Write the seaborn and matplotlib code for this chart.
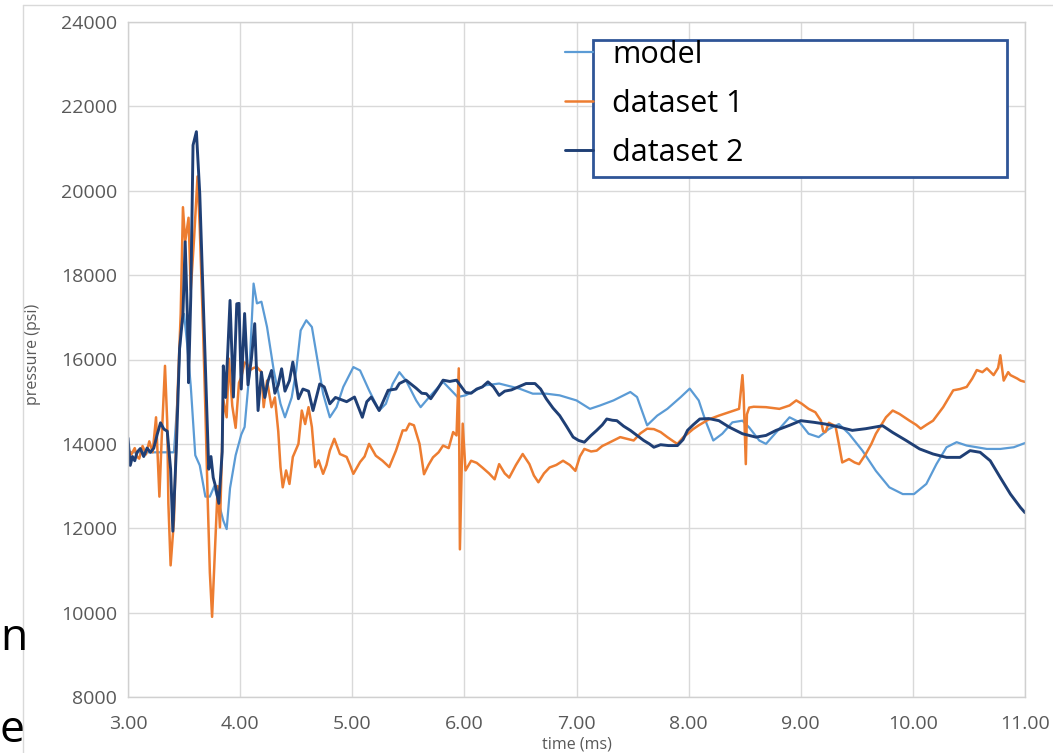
import pandas as pd
import matplotlib
matplotlib.use("Agg")
import matplotlib.pyplot as plt
import matplotlib.patches as patches
from matplotlib.lines import Line2D
from matplotlib.ticker import FormatStrFormatter
import seaborn as sns

# (time ms, pressure psi)
model_pts = [
    (3.00, 13800), (3.41, 13800), (3.44, 15000), (3.47, 16670), (3.50, 17080), (3.53, 16300),
    (3.56, 15360), (3.60, 13730), (3.64, 13490), (3.69, 12750), (3.73, 12750), (3.77, 13000),
    (3.81, 12590), (3.85, 12180), (3.88, 11980), (3.91, 12950), (3.96, 13730), (4.01, 14220),
    (4.04, 14400), (4.08, 15600), (4.12, 17800), (4.15, 17330), (4.19, 17370), (4.24, 16770),
    (4.30, 15740), (4.36, 14950), (4.40, 14630), (4.46, 15100), (4.50, 15740), (4.54, 16690),
    (4.59, 16930), (4.64, 16770), (4.68, 16140), (4.74, 15190), (4.80, 14630), (4.86, 14870),
    (4.92, 15350), (5.01, 15820), (5.07, 15740), (5.15, 15270), (5.24, 14790), (5.30, 14950),
    (5.36, 15420), (5.42, 15700), (5.48, 15500), (5.57, 15030), (5.61, 14870), (5.69, 15120),
    (5.81, 15470), (5.94, 15110), (6.01, 15150), (6.19, 15390), (6.31, 15430), (6.49, 15310),
    (6.61, 15190), (6.73, 15190), (6.85, 15150), (7.00, 15030), (7.12, 14830), (7.21, 14910),
    (7.33, 15030), (7.48, 15230), (7.54, 15110), (7.63, 14440), (7.72, 14670), (7.81, 14830),
    (7.93, 15110), (8.01, 15310), (8.09, 15030), (8.15, 14550), (8.22, 14080), (8.30, 14240),
    (8.39, 14510), (8.48, 14550), (8.54, 14390), (8.63, 14080), (8.69, 14000), (8.78, 14270),
    (8.90, 14630), (8.99, 14510), (9.07, 14240), (9.16, 14160), (9.25, 14350), (9.34, 14470),
    (9.43, 14240), (9.55, 13840), (9.67, 13360), (9.79, 12970), (9.91, 12810), (10.01, 12810),
    (10.12, 13050), (10.21, 13520), (10.30, 13920), (10.39, 14040), (10.48, 13960), (10.57, 13920),
    (10.66, 13880), (10.78, 13880), (10.90, 13920), (11.00, 14020),
]

dataset1_pts = [
    (3.00, 13890), (3.03, 13750), (3.06, 13900), (3.08, 13700), (3.10, 13650), (3.13, 13950),
    (3.16, 13750), (3.19, 14060), (3.22, 13800), (3.25, 14630), (3.28, 12750), (3.30, 14100),
    (3.33, 15850), (3.35, 14500), (3.36, 12590), (3.38, 11120), (3.41, 12200), (3.44, 15040),
    (3.47, 17080), (3.49, 19610), (3.51, 18790), (3.54, 19360), (3.56, 17650), (3.59, 18900),
    (3.62, 20340), (3.64, 19120), (3.67, 16670), (3.69, 14800), (3.71, 12750), (3.73, 10950),
    (3.75, 9900), (3.78, 11770), (3.80, 13000), (3.82, 12020), (3.85, 15040), (3.88, 14630),
    (3.90, 16020), (3.93, 14900), (3.96, 14380), (3.99, 15450), (4.01, 15580), (4.04, 15930),
    (4.06, 15900), (4.09, 15750), (4.12, 15800), (4.15, 15820), (4.19, 15700), (4.21, 14870),
    (4.24, 15500), (4.28, 14870), (4.31, 15100), (4.34, 14300), (4.36, 13450), (4.38, 12970),
    (4.41, 13370), (4.44, 13050), (4.47, 13690), (4.52, 14000), (4.55, 14790), (4.58, 14470),
    (4.61, 14870), (4.64, 14400), (4.67, 13450), (4.70, 13610), (4.74, 13290), (4.77, 13500),
    (4.80, 13840), (4.84, 14120), (4.89, 13760), (4.95, 13690), (4.98, 13500), (5.01, 13290),
    (5.07, 13570), (5.11, 13700), (5.15, 14000), (5.21, 13720), (5.27, 13600), (5.33, 13450),
    (5.39, 13840), (5.45, 14320), (5.48, 14320), (5.51, 14480), (5.55, 14440), (5.60, 14000),
    (5.64, 13280), (5.68, 13500), (5.72, 13680), (5.77, 13800), (5.81, 13960), (5.86, 13900),
    (5.90, 14280), (5.93, 14200), (5.95, 15790), (5.96, 11500), (5.985, 14480), (6.01, 13370),
    (6.06, 13600), (6.11, 13550), (6.16, 13440), (6.22, 13300), (6.27, 13160), (6.31, 13520),
    (6.36, 13300), (6.40, 13200), (6.46, 13500), (6.52, 13760), (6.58, 13520), (6.62, 13250),
    (6.66, 13090), (6.71, 13300), (6.76, 13440), (6.82, 13500), (6.88, 13600), (6.94, 13500),
    (6.99, 13360), (7.03, 13700), (7.07, 13880), (7.13, 13820), (7.18, 13840), (7.23, 13950),
    (7.27, 14000), (7.33, 14080), (7.39, 14160), (7.45, 14120), (7.51, 14080), (7.57, 14250),
    (7.63, 14360), (7.69, 14350), (7.75, 14280), (7.81, 14160), (7.87, 14050), (7.90, 14000),
    (7.95, 14150), (7.99, 14240), (8.04, 14350), (8.09, 14440), (8.18, 14580), (8.27, 14670),
    (8.36, 14750), (8.45, 14830), (8.48, 15630), (8.49, 15200), (8.51, 13520), (8.52, 14700),
    (8.54, 14860), (8.58, 14880), (8.69, 14870), (8.81, 14830), (8.90, 14910), (8.96, 15030),
    (9.01, 14950), (9.07, 14830), (9.13, 14750), (9.18, 14550), (9.20, 14300), (9.22, 14280),
    (9.25, 14500), (9.31, 14420), (9.34, 14000), (9.37, 13560), (9.43, 13640), (9.48, 13560),
    (9.52, 13520), (9.58, 13760), (9.63, 14000), (9.67, 14240), (9.76, 14630), (9.82, 14790),
    (9.88, 14710), (9.97, 14550), (10.03, 14450), (10.07, 14360), (10.12, 14450), (10.18, 14550),
    (10.27, 14870), (10.36, 15270), (10.42, 15300), (10.48, 15350), (10.53, 15550), (10.57, 15750),
    (10.62, 15700), (10.66, 15790), (10.72, 15630), (10.76, 15800), (10.78, 16100), (10.81, 15500),
    (10.85, 15700), (10.87, 15630), (10.93, 15550), (10.96, 15500), (11.00, 15470),
]

dataset2_pts = [
    (3.00, 14140), (3.02, 13490), (3.04, 13700), (3.06, 13600), (3.08, 13800), (3.11, 13890),
    (3.14, 13700), (3.17, 13900), (3.20, 13800), (3.23, 13900), (3.26, 14220), (3.29, 14500),
    (3.32, 14350), (3.35, 14300), (3.38, 13400), (3.40, 11930), (3.43, 13810), (3.46, 16260),
    (3.49, 17080), (3.51, 18790), (3.53, 17000), (3.54, 15450), (3.56, 17500), (3.58, 21080),
    (3.61, 21400), (3.64, 19930), (3.66, 18300), (3.69, 15850), (3.72, 13400), (3.74, 13700),
    (3.76, 13200), (3.78, 13000), (3.81, 12590), (3.84, 13810), (3.85, 15850), (3.87, 15100),
    (3.89, 16200), (3.91, 17400), (3.94, 15110), (3.97, 17320), (3.99, 17330), (4.01, 15300),
    (4.04, 17090), (4.07, 15400), (4.10, 16000), (4.13, 16850), (4.16, 14790), (4.19, 15700),
    (4.22, 15100), (4.25, 15500), (4.28, 15740), (4.31, 15200), (4.34, 15400), (4.37, 15780),
    (4.40, 15250), (4.44, 15500), (4.47, 15940), (4.52, 15070), (4.56, 15300), (4.61, 15250),
    (4.65, 14790), (4.71, 15420), (4.75, 15350), (4.80, 14950), (4.85, 15100), (4.90, 15050),
    (4.95, 15000), (5.02, 15110), (5.09, 14630), (5.13, 15000), (5.17, 15110), (5.24, 14790),
    (5.32, 15270), (5.39, 15300), (5.42, 15430), (5.48, 15510), (5.57, 15320), (5.62, 15200),
    (5.66, 15190), (5.70, 15070), (5.76, 15300), (5.81, 15510), (5.87, 15480), (5.93, 15510),
    (6.01, 15220), (6.06, 15200), (6.11, 15300), (6.16, 15350), (6.21, 15470), (6.26, 15350),
    (6.31, 15150), (6.36, 15250), (6.42, 15280), (6.48, 15350), (6.55, 15430), (6.63, 15430),
    (6.68, 15300), (6.73, 15070), (6.79, 14850), (6.85, 14670), (6.91, 14420), (6.97, 14160),
    (7.02, 14080), (7.07, 14040), (7.13, 14200), (7.18, 14320), (7.23, 14450), (7.27, 14590),
    (7.32, 14560), (7.36, 14550), (7.42, 14420), (7.48, 14320), (7.54, 14200), (7.60, 14080),
    (7.65, 14000), (7.69, 13920), (7.75, 13980), (7.82, 13960), (7.90, 13960), (7.95, 14100),
    (7.99, 14320), (8.04, 14450), (8.10, 14590), (8.18, 14600), (8.27, 14550), (8.36, 14400),
    (8.48, 14240), (8.60, 14160), (8.69, 14200), (8.78, 14320), (8.90, 14440), (9.00, 14550),
    (9.12, 14510), (9.22, 14470), (9.34, 14400), (9.46, 14320), (9.58, 14360), (9.73, 14430),
    (9.82, 14270), (9.94, 14080), (10.06, 13880), (10.18, 13760), (10.30, 13680), (10.42, 13680),
    (10.51, 13840), (10.60, 13800), (10.69, 13600), (10.78, 13200), (10.87, 12810), (10.96, 12490),
    (11.00, 12370),
]

series_names = ["model", "dataset 1", "dataset 2"]
series_colors = ["#5B9BD5", "#ED7D31", "#1F3F75"]
series_widths = [1.6, 1.8, 2.1]
x_ticks = [3, 4, 5, 6, 7, 8, 9, 10, 11]
y_ticks = [8000, 10000, 12000, 14000, 16000, 18000, 20000, 22000, 24000]

sns.set_theme(style="white")
plt.rcParams['font.family'] = ['Open Sans', 'DejaVu Sans']

fig = plt.figure(figsize=(10.53, 7.53), dpi=100)
ax = fig.add_axes([128 / 1053, 1 - 697 / 753, 897 / 1053, 675 / 753])

for name, pts, color, lw in zip(series_names, [model_pts, dataset1_pts, dataset2_pts],
                                series_colors, series_widths):
    df = pd.DataFrame(pts, columns=["time", "pressure"])
    sns.lineplot(data=df, x="time", y="pressure", ax=ax, color=color, linewidth=lw,
                 sort=False, estimator=None, label=name, legend=False)

ax.set_xlim(3, 11)
ax.set_ylim(8000, 24000)
ax.set_xticks(x_ticks)
ax.set_yticks(y_ticks)
ax.xaxis.set_major_formatter(FormatStrFormatter("%.2f"))
ax.grid(True, color="#d9d9d9", linewidth=1)
ax.set_axisbelow(True)
for sp in ax.spines.values():
    sp.set_color("#d0d0d0")
    sp.set_linewidth(1)
ax.tick_params(axis="both", length=0, labelcolor="#595959", labelsize=14)
ax.tick_params(axis="x", pad=13)
ax.tick_params(axis="y", pad=8)

ax.set_xlabel("time (ms)", fontsize=11.5, color="#595959")
ax.set_ylabel("pressure (psi)", fontsize=11.5, color="#595959")
ax.xaxis.set_label_coords(0.5, -0.058)
ax.yaxis.set_label_coords(-0.097, 0.507)

# white legend box drawn over the plot, handles stick out to its left
box = patches.Rectangle((593 / 1053, 1 - 177 / 753), 414 / 1053, 137 / 753,
                        transform=fig.transFigure, facecolor="white",
                        edgecolor="#2F5597", linewidth=2, zorder=4)
ax.add_patch(box)
handles = [Line2D([0], [0], color=c, lw=w) for c, w in zip(series_colors, series_widths)]
leg = ax.legend(handles, series_names, loc="upper left",
                bbox_to_anchor=(565 / 1053, 1 - 40 / 753), bbox_transform=fig.transFigure,
                frameon=False, fontsize=22, handlelength=0.9, handletextpad=0.65,
                borderaxespad=0, borderpad=0, labelspacing=0.62)
leg.set_zorder(5)
for t in leg.get_texts():
    t.set_color("black")

# bits of the surrounding slide
fig.add_artist(Line2D([23 / 1053, 23 / 1053], [0, 1 - 5 / 753], color="#d9d9d9", lw=1,
                      transform=fig.transFigure))
fig.add_artist(Line2D([23 / 1053, 1], [1 - 5 / 753, 1 - 5 / 753], color="#d9d9d9", lw=1,
                      transform=fig.transFigure))
fig.text(0, 1 - 650 / 753, "n", fontsize=32, color="black", ha="left",
         va="baseline", family=["Open Sans", "DejaVu Sans"])
fig.text(0, 1 - 753 / 753, "e", fontsize=32, color="black", ha="left",
         va="bottom", family=["Open Sans", "DejaVu Sans"])

fig.savefig("out.png", dpi=100, facecolor="white")
